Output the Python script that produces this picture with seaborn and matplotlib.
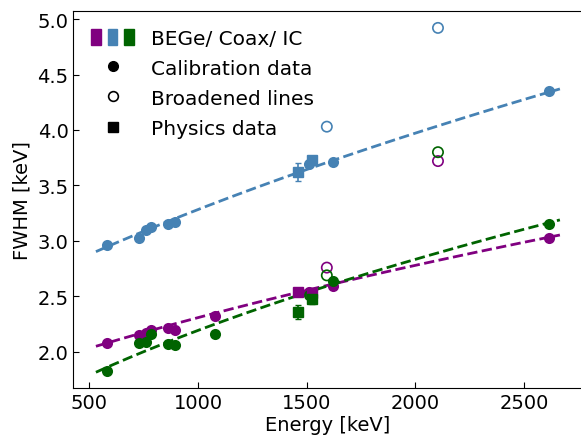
import numpy as np
import pandas as pd
import matplotlib
matplotlib.use("Agg")
import matplotlib.pyplot as plt
import seaborn as sns
from matplotlib.lines import Line2D
from matplotlib.patches import Patch
from matplotlib.legend_handler import HandlerTuple

# calibration lines (keV)
e_bege = [583.2, 727.3, 763.5, 785.4, 860.6, 893.4, 1078.6, 1512.7, 1620.7, 2614.5]
fwhm_bege = [2.08, 2.15, 2.17, 2.20, 2.22, 2.20, 2.32, 2.54, 2.59, 3.03]
e_coax = [583.2, 727.3, 763.5, 785.4, 860.6, 893.4, 1512.7, 1620.7, 2614.5]
fwhm_coax = [2.96, 3.03, 3.10, 3.13, 3.15, 3.17, 3.69, 3.71, 4.35]
e_ic = [583.2, 727.3, 763.5, 785.4, 860.6, 893.4, 1078.6, 1512.7, 1620.7, 2614.5]
fwhm_ic = [1.83, 2.08, 2.09, 2.16, 2.07, 2.06, 2.16, 2.51, 2.64, 3.15]

# broadened lines (DEP, SEP)
e_broad = [1592.5, 2103.5]
broad_bege = [2.76, 3.72]
broad_coax = [4.03, 4.92]
broad_ic = [2.69, 3.80]

# physics data (K-40, K-42)
e_phys = [1460.8, 1524.6]
phys_bege = [2.54, 2.53]
phys_bege_err = [0.02, 0.02]
phys_coax = [3.62, 3.73]
phys_coax_err = [0.08, 0.04]
phys_ic = [2.36, 2.48]
phys_ic_err = [0.065, 0.05]

# resolution curves FWHM = sqrt(a + b*E)
fit_a = {"BEGe": 2.932, "Coax": 5.778, "IC": 1.590}
fit_b = {"BEGe": 0.00240, "Coax": 0.00500, "IC": 0.003223}
fit_range = [531, 2664]

colors = {"BEGe": "purple", "Coax": "steelblue", "IC": "darkgreen"}

sns.set_style("ticks", {"xtick.direction": "in", "ytick.direction": "in",
                        "text.color": "black", "axes.labelcolor": "black",
                        "xtick.color": "black", "ytick.color": "black",
                        "axes.edgecolor": "black"})
plt.rcParams["font.family"] = ["DejaVu Sans"]
plt.rcParams["savefig.bbox"] = "standard"
fs = 14

fig = plt.figure(figsize=(5.81, 4.39), dpi=100)
ax = fig.add_axes([73.3 / 581, 50 / 439, 1 - 73.3 / 581, 377.3 / 439])

sets = [
    ("BEGe", e_bege, fwhm_bege, broad_bege, phys_bege, phys_bege_err),
    ("Coax", e_coax, fwhm_coax, broad_coax, phys_coax, phys_coax_err),
    ("IC", e_ic, fwhm_ic, broad_ic, phys_ic, phys_ic_err),
]

e_fit = np.linspace(fit_range[0], fit_range[1], 200)
for name, e, f, fb, fp, fpe in sets:
    c = colors[name]
    fit_df = pd.DataFrame({"E": e_fit, "FWHM": np.sqrt(fit_a[name] + fit_b[name] * e_fit)})
    sns.lineplot(data=fit_df, x="E", y="FWHM", color=c, lw=2, ls="--", ax=ax)
    sns.scatterplot(x=e, y=f, color=c, s=64, edgecolor=c, linewidth=0, ax=ax, zorder=3)
    sns.scatterplot(x=e_broad, y=fb, facecolor="none", edgecolor=c, s=55, linewidth=1.2, ax=ax, zorder=3)
    ax.errorbar(e_phys, fp, yerr=fpe, fmt="s", color=c, ms=7.5, capsize=2.5, elinewidth=1.2, zorder=3)

# axis is cut at the right edge of the figure
ax.set_xlim(427, 2761)
ax.set_ylim(1.675, 5.075)
ax.spines["right"].set_visible(False)
ax.set_xticks([500, 1000, 1500, 2000, 2500])
ax.set_yticks([2.0, 2.5, 3.0, 3.5, 4.0, 4.5, 5.0])
ax.tick_params(labelsize=fs, length=4)
ax.set_xlabel("Energy [keV]", fontsize=fs, labelpad=2)
ax.set_ylabel("FWHM [keV]", fontsize=fs)

handles = [
    (Patch(color=colors["BEGe"]), Patch(color=colors["Coax"]), Patch(color=colors["IC"])),
    Line2D([], [], ls="none", marker="o", color="black", ms=7),
    Line2D([], [], ls="none", marker="o", mfc="none", mec="black", ms=7, mew=1.2),
    Line2D([], [], ls="none", marker="s", color="black", ms=7),
]
labels = ["BEGe/ Coax/ IC", "Calibration data", "Broadened lines", "Physics data"]
ax.legend(handles, labels, loc="upper left", frameon=False, fontsize=14.5,
          handler_map={tuple: HandlerTuple(ndivide=None, pad=0.32)},
          handlelength=2.1, handleheight=0.85, handletextpad=0.85, labelspacing=0.55,
          bbox_to_anchor=(0.0, 1.0))

fig.savefig("out.png", dpi=100)
